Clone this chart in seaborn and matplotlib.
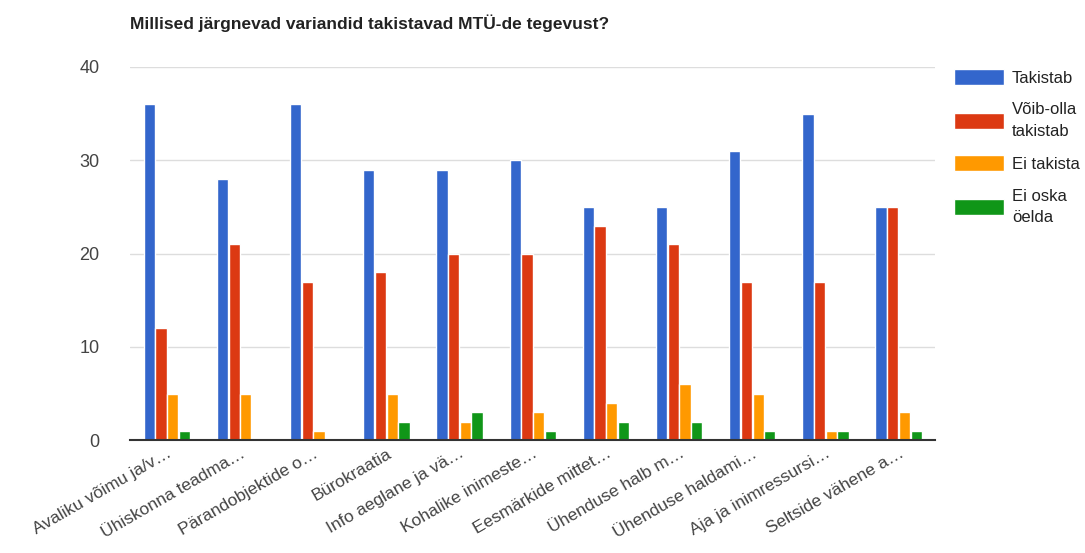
import pandas as pd
import matplotlib.pyplot as plt
import seaborn as sns

# -----------------------------
# Data
# -----------------------------
categories = [
    "Avaliku võimu ja/v…",
    "Ühiskonna teadma…",
    "Pärandobjektide o…",
    "Bürokraatia",
    "Info aeglane ja vä…",
    "Kohalike inimeste…",
    "Eesmärkide mittet…",
    "Ühenduse halb m…",
    "Ühenduse haldami…",
    "Aja ja inimressursi…",
    "Seltside vähene a…",
]
series = ["Takistab", "Võib-olla\ntakistab", "Ei takista", "Ei oska\nöelda"]
takistab = [36, 28, 36, 29, 29, 30, 25, 25, 31, 35, 25]
voib_olla = [12, 21, 17, 18, 20, 20, 23, 21, 17, 17, 25]
ei_takista = [5, 5, 1, 5, 2, 3, 4, 6, 5, 1, 3]
ei_oska = [1, 0, 0, 2, 3, 1, 2, 2, 1, 1, 1]
colors = ["#3366CC", "#DC3912", "#FF9900", "#109618"]

df = pd.DataFrame({"Kategooria": categories})
for name, vals in zip(series, [takistab, voib_olla, ei_takista, ei_oska]):
    df[name] = vals
long = df.melt(id_vars="Kategooria", var_name="Vastus", value_name="Arv")

# -----------------------------
# Theme
# -----------------------------
sns.set_theme(style="white")
plt.rcParams["font.family"] = ["Liberation Sans", "DejaVu Sans"]

fig = plt.figure(figsize=(10.85, 5.53), dpi=100)
ax = fig.add_axes([0.12, 0.204, 0.742, 0.675])

sns.barplot(
    data=long,
    x="Kategooria",
    y="Arv",
    hue="Vastus",
    hue_order=series,
    palette=colors,
    width=0.64,
    gap=0.04,
    saturation=1,
    ax=ax,
)

ax.set_ylim(0, 40)
ax.set_yticks([0, 10, 20, 30, 40])
ax.grid(axis="y", color="#dddddd", linewidth=1)
ax.set_axisbelow(True)
for s in ["top", "right", "left"]:
    ax.spines[s].set_visible(False)
ax.spines["bottom"].set_color("#333333")
ax.spines["bottom"].set_linewidth(1.5)
ax.set_xlabel("")
ax.set_ylabel("")
ax.set_xlim(-0.5, len(categories) - 0.5)

ax.tick_params(axis="y", labelsize=13, colors="#444444", pad=22, length=0)
ax.tick_params(axis="x", labelsize=12.5, colors="#444444", length=0, pad=4)
plt.setp(ax.get_xticklabels(), rotation=30, ha="right", rotation_mode="anchor")

fig.text(0.12, 0.958, "Millised järgnevad variandid takistavad MTÜ-de tegevust?",
         fontsize=12.5, fontweight="bold", color="#222222", ha="left", va="center")

leg = ax.legend(
    loc="upper left",
    bbox_to_anchor=(1.005, 1.035),
    frameon=False,
    fontsize=12,
    handlelength=3.0,
    handleheight=1.1,
    handletextpad=0.45,
    labelspacing=1.0,
)
for t in leg.get_texts():
    t.set_color("#222222")
    t.set_linespacing(1.55)

plt.savefig("out.png", dpi=100)
plt.close()
